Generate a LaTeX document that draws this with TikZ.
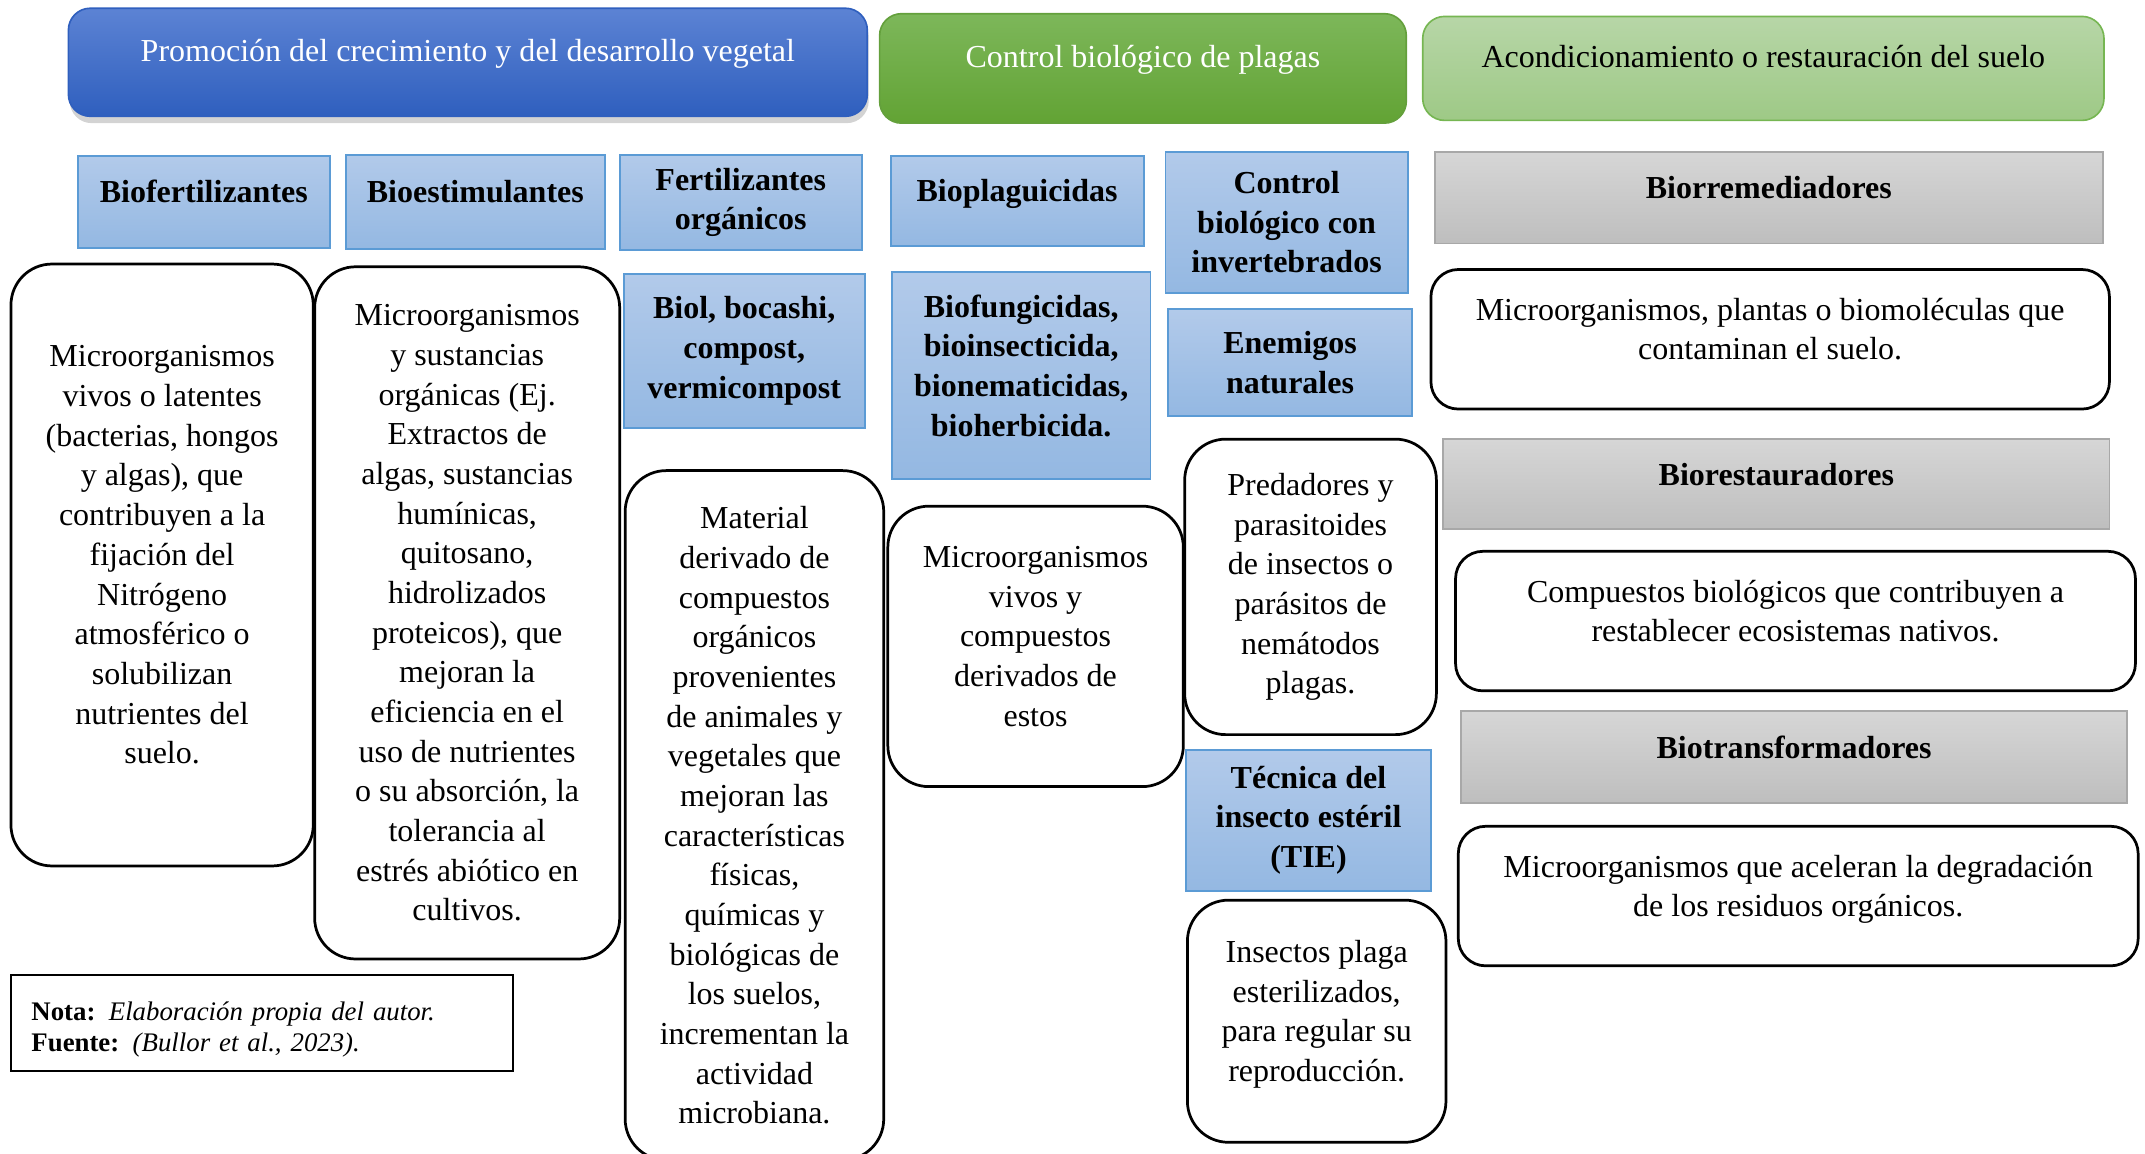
\documentclass[tikz,border=0pt]{standalone}
\usepackage{fontspec}
\setmainfont{Liberation Serif}
\usetikzlibrary{shadows}

\definecolor{hdrAtop}{RGB}{92,131,212}
\definecolor{hdrAbot}{RGB}{47,95,190}
\definecolor{hdrBtop}{RGB}{125,183,90}
\definecolor{hdrBbot}{RGB}{98,163,52}
\definecolor{hdrBline}{RGB}{100,160,60}
\definecolor{hdrCtop}{RGB}{183,214,167}
\definecolor{hdrCbot}{RGB}{158,201,134}
\definecolor{hdrCline}{RGB}{118,182,82}
\definecolor{cattop}{RGB}{178,202,234}
\definecolor{catbot}{RGB}{148,184,226}
\definecolor{catline}{RGB}{91,155,213}
\definecolor{greytop}{RGB}{214,214,214}
\definecolor{greybot}{RGB}{190,190,190}
\definecolor{greyline}{RGB}{168,168,168}

\begin{document}
\begin{tikzpicture}[
    x=0.5pt, y=-0.5pt,
    every node/.style={font=\fontsize{11.7}{14.5}\selectfont, align=center, inner sep=2pt},
    headbox/.style={rectangle, rounded corners=8pt, line width=0.6pt, text depth=9pt},
    catbox/.style={rectangle, draw=catline, top color=cattop, bottom color=catbot, line width=0.7pt, font=\fontsize{11.7}{14.5}\selectfont\bfseries},
    greybox/.style={rectangle, draw=greyline, top color=greytop, bottom color=greybot, line width=0.7pt, font=\fontsize{11.7}{14.5}\selectfont\bfseries},
    descbox/.style={rectangle, draw, rounded corners=15pt, line width=1pt, fill=white},
    raised/.style={text depth=7.5pt}
]
\useasboundingbox (0,0) rectangle (1568,843);
% Headers
\node[headbox, draw=hdrAbot, top color=hdrAtop, bottom color=hdrAbot, text=white, minimum width=292pt, minimum height=39.5pt,
      drop shadow={shadow xshift=0.5pt, shadow yshift=-2.5pt, opacity=0.35}] (promo) at (342,45.5)
      {Promoción del crecimiento y del desarrollo vegetal};
\node[headbox, draw=hdrBline, top color=hdrBtop, bottom color=hdrBbot, text=white, minimum width=192.5pt, minimum height=40pt] (control) at (835.5,50)
      {Control biológico de plagas};
\node[headbox, draw=hdrCline, top color=hdrCtop, bottom color=hdrCbot, minimum width=249pt, minimum height=38pt] (suelo) at (1289,50)
      {Acondicionamiento o restauración del suelo};
% Categories
\node[catbox, raised, minimum width=92pt, minimum height=33.5pt] (biofert) at (149,147.5) {Biofertilizantes};
\node[catbox, raised, minimum width=94.5pt, minimum height=34.5pt] (bioest) at (347.5,147.5) {Bioestimulantes};
\node[catbox, minimum width=88.5pt, minimum height=35pt] (fertorg) at (541.5,148) {Fertilizantes\\ orgánicos};
\node[catbox, raised, minimum width=92.5pt, minimum height=33pt] (bioplag) at (743.5,147) {Bioplaguicidas};
\node[catbox, minimum width=88.5pt, minimum height=51.5pt] (ctrlinv) at (940.5,162.5) {Control\\ biológico con\\ invertebrados};
\node[catbox, minimum width=88pt, minimum height=56.5pt] (biol) at (544,256.5) {Biol, bocashi,\\ compost,\\ vermicompost};
\node[catbox, raised, minimum width=94.5pt, minimum height=75.5pt] (biofung) at (746.5,274.5) {Biofungicidas,\\ bioinsecticida,\\ bionematicidas,\\ bioherbicida.};
\node[catbox, minimum width=89pt, minimum height=39pt] (enemigos) at (943,265) {Enemigos\\ naturales};
\node[catbox, minimum width=89.5pt, minimum height=51.5pt] (tie) at (956.5,599.5) {Técnica del\\ insecto estéril\\ (TIE)};
\node[greybox, raised, minimum width=244pt, minimum height=33.5pt] (biorrem) at (1293,144.5) {Biorremediadores};
\node[greybox, raised, minimum width=243.5pt, minimum height=33pt] (biorest) at (1298.5,354) {Biorestauradores};
\node[greybox, raised, minimum width=243.5pt, minimum height=33.5pt] (biotrans) at (1311.5,553.5) {Biotransformadores};
% Descriptions
\node[descbox, raised, minimum width=110.5pt, minimum height=220pt] (txtbiofert) at (118.5,413)
  {Microorganismos\\ vivos o latentes\\ (bacterias, hongos\\ y algas), que\\ contribuyen a la\\ fijación del\\ Nitrógeno\\ atmosférico o\\ solubilizan\\ nutrientes del\\ suelo.};
\node[descbox, minimum width=111.5pt, minimum height=253pt] (txtbioest) at (341.5,448)
  {Microorganismos\\ y sustancias\\ orgánicas (Ej.\\ Extractos de\\ algas, sustancias\\ humínicas,\\ quitosano,\\ hidrolizados\\ proteicos), que\\ mejoran la\\ eficiencia en el\\ uso de nutrientes\\ o su absorción, la\\ tolerancia al\\ estrés abiótico en\\ cultivos.};
\node[descbox, minimum width=94.5pt, minimum height=252pt] (txtfertorg) at (551.5,596)
  {Material\\ derivado de\\ compuestos\\ orgánicos\\ provenientes\\ de animales y\\ vegetales que\\ mejoran las\\ características\\ físicas,\\ químicas y\\ biológicas de\\ los suelos,\\ incrementan la\\ actividad\\ microbiana.};
\node[descbox, raised, minimum width=108pt, minimum height=102.5pt] (txtbioplag) at (757,472.5)
  {Microorganismos\\ vivos y\\ compuestos\\ derivados de\\ estos};
\node[descbox, minimum width=92pt, minimum height=108pt] (txtenemigos) at (958,429)
  {Predadores y\\ parasitoides\\ de insectos o\\ parásitos de\\ nemátodos\\ plagas.};
\node[descbox, raised, minimum width=94.5pt, minimum height=88.5pt] (txttie) at (962.5,746.5)
  {Insectos plaga\\ esterilizados,\\ para regular su\\ reproducción.};
\node[descbox, raised, rounded corners=10pt, minimum width=248pt, minimum height=51pt] (txtbiorrem) at (1294,248)
  {Microorganismos, plantas o biomoléculas que\\ contaminan el suelo.};
\node[descbox, raised, rounded corners=10pt, minimum width=248.5pt, minimum height=51pt] (txtbiorest) at (1312.5,454)
  {Compuestos biológicos que contribuyen a\\ restablecer ecosistemas nativos.};
\node[descbox, raised, rounded corners=10pt, minimum width=248.5pt, minimum height=51pt] (txtbiotrans) at (1314.5,655)
  {Microorganismos que aceleran la degradación\\ de los residuos orgánicos.};
% Note
\node[draw, line width=0.8pt, minimum width=183.5pt, minimum height=35pt, inner xsep=7.5pt, text width=168.5pt, align=left,
      text depth=9pt, font=\fontsize{9.8}{11.5}\selectfont] (nota) at (191.5,748)
  {\textbf{Nota:} \textit{Elaboración propia del autor.}\\ \textbf{Fuente:} \textit{(Bullor et al., 2023).}};
\end{tikzpicture}
\end{document}
